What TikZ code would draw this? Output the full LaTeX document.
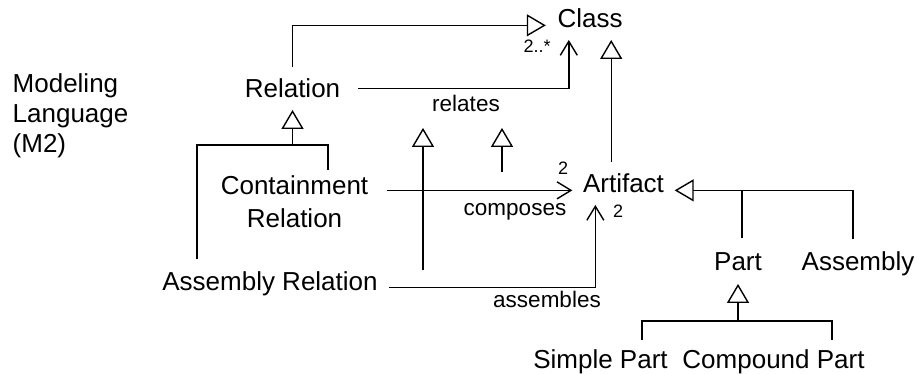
\documentclass[tikz,border=0pt]{standalone}
\usepackage{fontspec}
\setmainfont{Liberation Sans}
\usetikzlibrary{arrows.meta}

\tikzset{
  cls/.style={font=\fontsize{26}{30}\selectfont, anchor=base, inner sep=11pt},
  rolename/.style={font=\fontsize{22.5}{26}\selectfont, anchor=base, inner sep=0pt},
  mult/.style={font=\fontsize{18}{20}\selectfont, anchor=base, inner sep=0pt},
  gen/.style={-{Triangle[open, length=19pt, width=22pt]}},
  assoc/.style={-{Straight Barb[length=14pt, width=17pt]}},
}

\begin{document}
\begin{tikzpicture}[x=1pt, y=-1pt, line width=1.4pt]
  \useasboundingbox (0,0) rectangle (917,374);

  % metaclasses (base of a multi-line node = its last line)
  \node[cls, align=left, anchor=base west, inner sep=0pt] (lang) at (12,153) {Modeling\\Language\\(M2)};
  \node[cls] (cls) at (590,28) {Class};
  \node[cls, inner xsep=17pt] (rel) at (292.5,98) {Relation};
  \node[cls, align=center, font=\fontsize{26}{33}\selectfont, inner xsep=18pt, inner ysep=4pt] (cont) at (294.5,227) {Containment\\Relation};
  \node[cls] (asr) at (270,290) {Assembly Relation};
  \node[cls, inner xsep=10pt] (art) at (623.5,193) {Artifact};
  \node[cls, inner ysep=13pt] (prt) at (738,270) {Part};
  \node[cls] (asm) at (858,270) {Assembly};
  \node[cls, inner ysep=8pt] (sp) at (600.5,368) {Simple Part};
  \node[cls, inner ysep=8pt] (cp) at (773.5,368) {Compound Part};

  % role names and multiplicities
  \node[rolename, inner ysep=15pt] (relates) at (466,112) {relates};
  \node[rolename] (composes) at (515,215) {composes};
  \node[rolename] (assembles) at (547,307) {assembles};
  \node[mult] (m-rel) at (537,53) {2..*};
  \node[mult] (m-cont) at (563,175) {2};
  \node[mult] (m-asr) at (618,217) {2};

  % generalizations
  \draw[gen] (rel.north) |- (cls.mid west);
  \coordinate (cls-art) at ([xshift=-23pt]cls.south east);
  \draw[gen] (art.north -| cls-art) -- (cls-art);

  \coordinate (relL) at (197,145);
  \coordinate (relR) at (328,145);
  \draw (asr.north -| relL) -- (relL) -- (relR) -- (cont.north -| relR);
  \draw[gen] (rel.south |- relL) -- (rel.south);

  \draw[gen] ([xshift=-5pt]asm.north) |- (art.mid east);
  \draw ([xshift=4pt]prt.north) -- ([xshift=4pt]prt.north |- art.mid east);

  \coordinate (prtL) at (642,321);
  \coordinate (prtR) at (832,321);
  \draw (sp.north -| prtL) -- (prtL) -- (prtR) -- (cp.north -| prtR);
  \draw[gen] (prt.south |- prtL) -- (prt.south);

  % associations
  \coordinate (cls-rel) at ([xshift=23pt]cls.south west);
  \draw[assoc] (rel.east) -| (cls-rel);
  \draw[assoc] (art.mid west -| cont.east) -- (art.mid west);
  \coordinate (art-asr) at ([xshift=23pt]art.south west);
  \draw[assoc] (asr.mid east) -| (art-asr);

  % composes and assembles specialise relates
  \coordinate (sub-asr) at (423,270);
  \coordinate (sub-cont) at (502,172);
  \draw[gen] (sub-asr) -- (sub-asr |- relates.south);
  \draw[gen] (sub-cont) -- (sub-cont |- relates.south);
\end{tikzpicture}
\end{document}
